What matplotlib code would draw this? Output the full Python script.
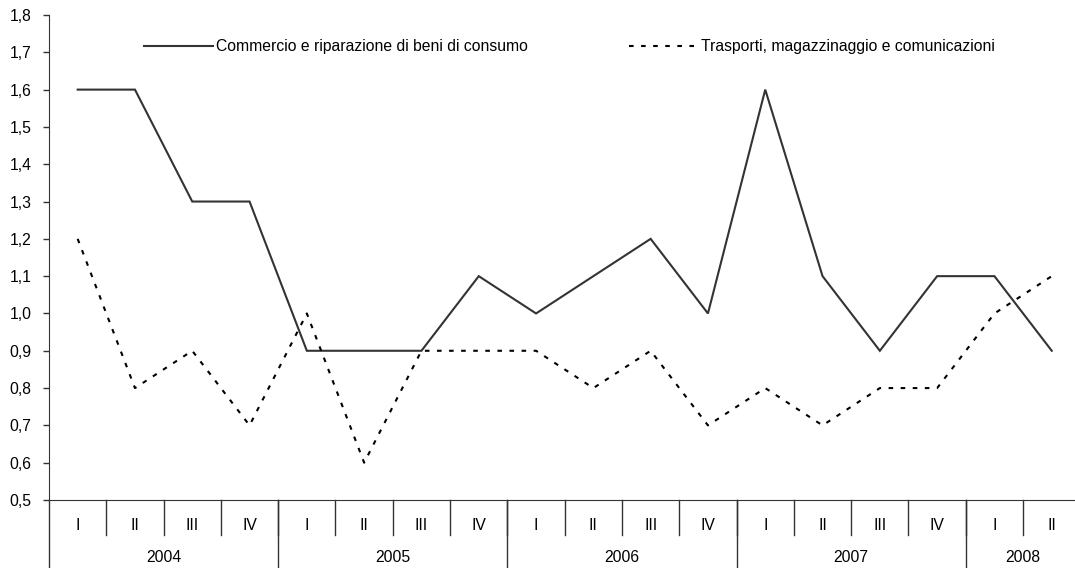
import matplotlib.pyplot as plt
from matplotlib.ticker import FuncFormatter, MultipleLocator

# ---------------------------------------------------------------------------
# Data
# ---------------------------------------------------------------------------
quarters = ["I", "II", "III", "IV"] * 4 + ["I", "II"]
years = ["2004", "2005", "2006", "2007", "2008"]
quarters_per_year = [4, 4, 4, 4, 2]

commercio = [1.6, 1.6, 1.3, 1.3, 0.9, 0.9, 0.9, 1.1, 1.0,
             1.1, 1.2, 1.0, 1.6, 1.1, 0.9, 1.1, 1.1, 0.9]
trasporti = [1.2, 0.8, 0.9, 0.7, 1.0, 0.6, 0.9, 0.9, 0.9,
             0.8, 0.9, 0.7, 0.8, 0.7, 0.8, 0.8, 1.0, 1.1]

LABEL_COMM = "Commercio e riparazione di beni di consumo"
LABEL_TRAS = "Trasporti, magazzinaggio e comunicazioni"

FS = 11.3
plt.rcParams["font.family"] = ["Liberation Sans", "DejaVu Sans"]

W, H = 1075, 568
fig = plt.figure(figsize=(W / 100, H / 100), dpi=100)
# axes box in pixels: left 49, bottom 500 (from top), top 15, 18 slots of 57.3 px
ax = fig.add_axes([49 / W, (H - 500) / H, 18 * 57.3 / W, 485 / H])

x = list(range(len(quarters)))
ax.plot(x, commercio, color="#333333", lw=1.5, solid_joinstyle="miter")
ax.plot(x, trasporti, color="black", lw=1.5, dashes=(2.2, 3.6))

ax.set_xlim(-0.5, len(quarters) - 0.5)
ax.set_ylim(0.5, 1.8)
ax.yaxis.set_major_locator(MultipleLocator(0.1))
ax.yaxis.set_major_formatter(FuncFormatter(lambda v, p: f"{v:.1f}".replace(".", ",")))
ax.tick_params(axis="y", direction="out", length=4.5, width=1, color="#333333",
               labelsize=FS, pad=8)
ax.set_xticks([])

for side in ["top", "right"]:
    ax.spines[side].set_visible(False)
ax.spines["left"].set_color("#333333")
ax.spines["bottom"].set_color("#333333")

# --- two-level category axis ---
tr = ax.get_xaxis_transform()
q_len = 35 / 485
y_len = 68 / 485
ax.plot([-0.5, -0.5], [0, -y_len], transform=tr, color="#333333", lw=1, clip_on=False)
for i, q in enumerate(quarters):
    ax.text(i, -25 / 485, q, transform=tr, ha="center", va="center", fontsize=FS)
    if i > 0:
        ax.plot([i - 0.5, i - 0.5], [0, -q_len], transform=tr, color="#333333",
                lw=1, clip_on=False)
start = 0
for yr, n in zip(years, quarters_per_year):
    ax.text(start + (n - 1) / 2, -57 / 485, yr, transform=tr, ha="center",
            va="center", fontsize=FS)
    if start > 0:
        ax.plot([start - 0.5, start - 0.5], [0, -y_len], transform=tr,
                color="#333333", lw=1, clip_on=False)
    start += n

# --- legend drawn inline near the top ---
fig.legend([ax.lines[0], ax.lines[1]], [LABEL_COMM, LABEL_TRAS], ncol=2,
           loc="upper left", bbox_to_anchor=(144 / W, (H - 39) / H),
           frameon=False, fontsize=FS, borderpad=0, borderaxespad=0,
           handlelength=4.4, handletextpad=0.2, columnspacing=6.4)

fig.savefig("out.png", dpi=100)
